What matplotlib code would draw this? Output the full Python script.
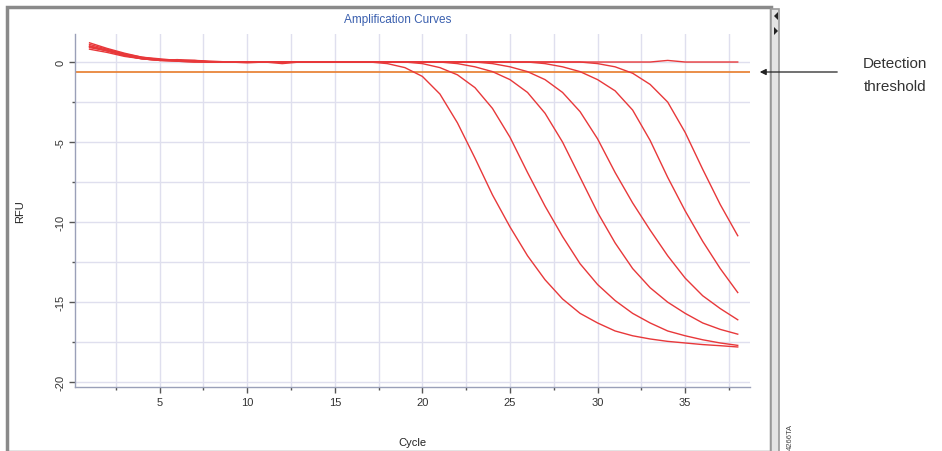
import matplotlib
matplotlib.use("Agg")
import matplotlib.pyplot as plt
from matplotlib.patches import Rectangle, Polygon
from matplotlib.ticker import MultipleLocator

plt.rcParams['font.family'] = ['Liberation Sans', 'DejaVu Sans']

cycles = list(range(1, 39))

curve_a = [1.1, 0.8, 0.5, 0.3, 0.15, 0.1, 0.05, 0.0, 0.0, 0.0, 0.0, 0.0, 0.0, 0.0, 0.0, 0.0, 0.0,
           -0.1, -0.35, -0.9, -2.0, -3.8, -6.0, -8.3, -10.3, -12.1, -13.6, -14.8, -15.7, -16.3,
           -16.8, -17.1, -17.3, -17.45, -17.55, -17.65, -17.72, -17.8]
curve_b = [1.0, 0.75, 0.45, 0.25, 0.15, 0.1, 0.1, 0.05, 0.0, 0.0, 0.0, 0.0, 0.0, 0.0, 0.0, 0.0, 0.0,
           0.0, 0.0, -0.1, -0.35, -0.8, -1.6, -2.9, -4.7, -6.9, -9.0, -10.9, -12.6, -13.9,
           -14.9, -15.7, -16.3, -16.8, -17.1, -17.35, -17.55, -17.7]
curve_c = [0.9, 0.7, 0.4, 0.2, 0.1, 0.15, 0.1, 0.0, 0.0, -0.05, 0.0, 0.0, 0.0, 0.0, 0.0, 0.0, 0.0,
           0.0, 0.0, 0.0, 0.0, -0.1, -0.3, -0.6, -1.1, -1.9, -3.2, -5.0, -7.2, -9.4,
           -11.3, -12.9, -14.1, -15.0, -15.7, -16.3, -16.7, -17.0]
curve_d = [1.2, 0.85, 0.55, 0.3, 0.2, 0.1, 0.05, 0.0, 0.0, 0.0, 0.0, 0.0, 0.0, 0.0, 0.0, 0.0, 0.0,
           0.0, 0.0, 0.0, 0.0, 0.0, 0.0, -0.1, -0.3, -0.6, -1.1, -1.9, -3.1, -4.8,
           -6.9, -8.8, -10.5, -12.1, -13.5, -14.6, -15.4, -16.1]
curve_e = [0.8, 0.6, 0.35, 0.2, 0.1, 0.05, 0.0, 0.0, 0.0, 0.0, 0.0, -0.1, 0.0, 0.0, 0.0, 0.0, 0.0,
           0.0, 0.0, 0.0, 0.0, 0.0, 0.0, 0.0, 0.0, 0.0, -0.1, -0.3, -0.6, -1.1,
           -1.8, -3.0, -4.9, -7.2, -9.3, -11.2, -12.9, -14.4]
curve_f = [1.0, 0.7, 0.45, 0.25, 0.15, 0.1, 0.05, 0.0, 0.0, 0.0, 0.0, 0.0, 0.0, 0.0, 0.0, 0.0, 0.0,
           0.0, 0.0, 0.0, 0.0, 0.0, 0.0, 0.0, 0.0, 0.0, 0.0, 0.0, 0.0, -0.1,
           -0.3, -0.7, -1.4, -2.5, -4.4, -6.7, -8.9, -10.85]
curve_ntc = [0.95, 0.7, 0.4, 0.2, 0.1, 0.05, 0.0, 0.0, 0.0, 0.0, 0.0, 0.0, 0.0, 0.0, 0.0, 0.0, 0.0,
             0.0, 0.0, 0.0, 0.0, 0.0, 0.0, 0.0, 0.0, 0.0, 0.0, 0.0, 0.0, 0.0,
             0.0, 0.0, 0.0, 0.1, 0.0, 0.0, 0.0, 0.0]
series = [curve_a, curve_b, curve_c, curve_d, curve_e, curve_f, curve_ntc]

threshold = -0.6
x_major = [5, 10, 15, 20, 25, 30, 35]
y_major = [0, -5, -10, -15, -20]

W, H = 942, 452
fig = plt.figure(figsize=(W / 100, H / 100), dpi=100)

def fx(px):
    return px / W

def fy(py):
    return 1 - py / H

# outer window frame
fig.patches.append(Rectangle((fx(7), fy(453)), fx(771) - fx(7), fy(8) - fy(453), transform=fig.transFigure,
                             facecolor='white', edgecolor='#8a8a8a', linewidth=2.5, zorder=0))
# scrollbar strip
fig.patches.append(Rectangle((fx(771), fy(453)), fx(779) - fx(771), fy(10) - fy(453), transform=fig.transFigure,
                             facecolor='#e4e4e4', edgecolor='#9a9a9a', linewidth=1.2, zorder=1))
fig.patches.append(Polygon([(fx(778), fy(13)), (fx(778), fy(21)), (fx(774), fy(17))],
                           closed=True, transform=fig.transFigure, facecolor='#222', edgecolor='none', zorder=2))
fig.patches.append(Polygon([(fx(774), fy(28)), (fx(774), fy(36)), (fx(778), fy(32))],
                           closed=True, transform=fig.transFigure, facecolor='#222', edgecolor='none', zorder=2))

ax = fig.add_axes([fx(75), fy(388), fx(750) - fx(75), fy(35) - fy(388)])
ax.set_zorder(5)
ax.set_facecolor('white')
ax.set_xlim(0.17, 38.7)
ax.set_ylim(-20.3, 1.75)

grid_c = '#dfdfee'
ax.xaxis.set_major_locator(MultipleLocator(5))
ax.xaxis.set_minor_locator(MultipleLocator(2.5))
ax.yaxis.set_major_locator(MultipleLocator(5))
ax.yaxis.set_minor_locator(MultipleLocator(2.5))
ax.grid(True, which='both', color=grid_c, linewidth=1.0)
ax.set_axisbelow(True)

for s in ['top', 'right']:
    ax.spines[s].set_visible(False)
for s in ['left', 'bottom']:
    ax.spines[s].set_color('#9aa0b8')
    ax.spines[s].set_linewidth(1.0)

ax.set_xticks(x_major)
ax.set_xticklabels([str(v) for v in x_major])
ax.set_yticks(y_major)
ax.set_yticklabels([str(v) for v in y_major], rotation=90, va='center')
ax.tick_params(which='major', length=4, width=1, color='#555', labelsize=8, labelcolor='#333', pad=3)
ax.tick_params(which='minor', length=2, width=1, color='#555')

ax.axhline(threshold, color='#e8863a', linewidth=1.3, zorder=2)
for s in series:
    ax.plot(cycles, s, color='#e8383a', linewidth=1.0, zorder=3)

ax.set_xlabel('Cycle', fontsize=8, color='#222', labelpad=22)
ax.set_ylabel('RFU', fontsize=8, color='#222', labelpad=22)

fig.text(fx(398), fy(20), 'Amplification Curves', color='#3a5fae', fontsize=8.5,
         ha='center', va='center', zorder=6)

fig.text(fx(895), fy(64), 'Detection', fontsize=11, color='#333', ha='center', va='center')
fig.text(fx(895), fy(87), 'threshold', fontsize=11, color='#333', ha='center', va='center')
ax.annotate('', xy=(fx(757), fy(73)), xycoords='figure fraction',
            xytext=(fx(840), fy(73)), textcoords='figure fraction',
            arrowprops=dict(arrowstyle='-|>', color='#222', lw=0.9, mutation_scale=9),
            annotation_clip=False)

fig.text(fx(790), fy(450), '4266TA', rotation=90, fontsize=5.5, color='#444', ha='center', va='bottom')

fig.savefig('out.png', dpi=100)
